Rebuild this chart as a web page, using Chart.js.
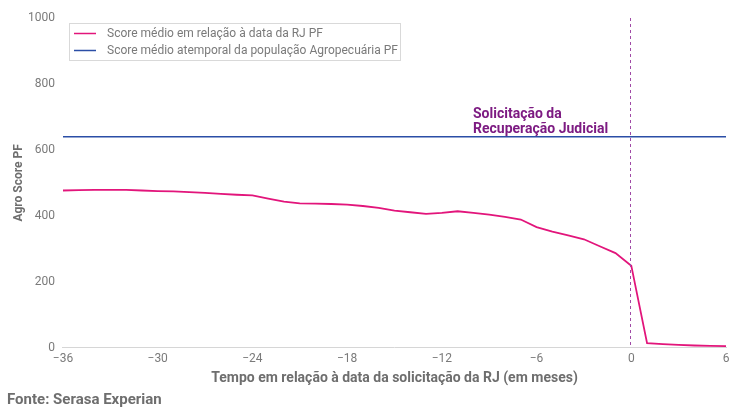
<!DOCTYPE html>
<html>
<head>
<meta charset="utf-8">
<script src="https://cdn.jsdelivr.net/npm/chart.js@4.4.1/dist/chart.umd.min.js"></script>
<style>
  html, body { margin: 0; padding: 0; background: #fff; }
  #wrap { width: 743px; height: 412px; position: relative; }
</style>
</head>
<body>
<div id="wrap"><canvas id="chart"></canvas></div>
<script>
// months relative to the RJ request date
const months = [-36, -35, -34, -33, -32, -31, -30, -29, -28, -27, -26, -25, -24, -23, -22, -21, -20, -19, -18, -17, -16, -15, -14, -13, -12, -11, -10, -9, -8, -7, -6, -5, -4, -3, -2, -1, 0, 1, 2, 3, 4, 5, 6];
const scoreRJ = [477, 478, 479, 479, 479, 477, 475, 474, 472, 470, 467, 464, 462, 452, 443, 438, 437, 436, 434, 430, 424, 416, 411, 406, 409, 414, 409, 404, 397, 389, 366, 352, 341, 329, 308, 287, 249, 14, 11, 9, 7, 6, 5];
const scorePopulation = 640;
const xTicks = [-36, -30, -24, -18, -12, -6, 0, 6];
const yTicks = [0, 200, 400, 600, 800, 1000];

const pink = '#e2157b';
const blue = '#2b4ea6';
const purple = '#7d1b82';

// legend box, dashed marker line and text labels
const overlay = {
  id: 'overlay',
  afterDatasetsDraw(chart) {
    const { ctx, chartArea, scales } = chart;
    ctx.save();

    // dashed line at month 0
    const x0 = scales.x.getPixelForValue(0);
    ctx.strokeStyle = '#a04aa6';
    ctx.lineWidth = 1;
    ctx.setLineDash([3, 3]);
    ctx.beginPath();
    ctx.moveTo(Math.round(x0) - 0.5, chartArea.top);
    ctx.lineTo(Math.round(x0) - 0.5, chartArea.bottom);
    ctx.stroke();
    ctx.setLineDash([]);

    ctx.fillStyle = purple;
    ctx.font = 'bold 14px Roboto';
    ctx.textAlign = 'left';
    ctx.textBaseline = 'alphabetic';
    ctx.fillText('Solicitação da', 473, 118);
    ctx.fillText('Recuperação Judicial', 473, 133);

    // y axis title
    ctx.save();
    ctx.translate(22, (chartArea.top + chartArea.bottom) / 2);
    ctx.rotate(-Math.PI / 2);
    ctx.fillStyle = '#6e6e6e';
    ctx.font = 'bold 12px Roboto';
    ctx.textAlign = 'center';
    ctx.fillText('Agro Score PF', 0, 0);
    ctx.restore();

    // legend
    const lx = 69, ly = 23, lw = 331, lh = 37;
    ctx.fillStyle = '#fff';
    ctx.fillRect(lx, ly, lw, lh);
    ctx.strokeStyle = '#d9d9d9';
    ctx.lineWidth = 1;
    ctx.strokeRect(lx + 0.5, ly + 0.5, lw, lh);
    const items = chart.data.datasets;
    ctx.font = '12px Roboto';
    ctx.textBaseline = 'middle';
    ctx.textAlign = 'left';
    items.forEach((ds, i) => {
      const y = ly + 10 + i * 17;
      ctx.strokeStyle = ds.borderColor;
      ctx.lineWidth = 1.5;
      ctx.beginPath();
      ctx.moveTo(lx + 5, y + 0.5);
      ctx.lineTo(lx + 27, y + 0.5);
      ctx.stroke();
      ctx.fillStyle = '#7a7a7a';
      ctx.fillText(ds.label, lx + 38, y + 1);
    });

    // source
    ctx.fillStyle = '#6e6e6e';
    ctx.font = 'bold 15px Roboto';
    ctx.textBaseline = 'alphabetic';
    ctx.fillText('Fonte: Serasa Experian', 7, 404);
    ctx.restore();
  }
};

const fmt = v => (v < 0 ? '\u2212' + Math.abs(v) : String(v));

new Chart(document.getElementById('chart'), {
  type: 'line',
  data: {
    datasets: [{
      label: 'Score médio em relação à data da RJ PF',
      data: months.map((m, i) => ({ x: m, y: scoreRJ[i] })),
      borderColor: pink,
      borderWidth: 1.8,
      pointRadius: 0,
      tension: 0
    }, {
      label: 'Score médio atemporal da população Agropecuária PF',
      data: [{ x: months[0], y: scorePopulation }, { x: months[months.length - 1], y: scorePopulation }],
      borderColor: blue,
      borderWidth: 1.5,
      pointRadius: 0
    }]
  },
  options: {
    responsive: true,
    maintainAspectRatio: false,
    animation: false,
    layout: { padding: { left: 20, right: 17, top: 18, bottom: 25 } },
    plugins: {
      legend: { display: false },
      tooltip: { enabled: false }
    },
    scales: {
      x: {
        type: 'linear',
        min: -36,
        max: 6,
        afterBuildTicks: axis => { axis.ticks = xTicks.map(v => ({ value: v })); },
        grid: { display: false, drawTicks: false },
        border: { color: '#d6d6d6' },
        ticks: {
          color: '#7a7a7a',
          font: { family: 'Roboto', size: 12 },
          padding: 4,
          maxRotation: 0,
          callback: v => fmt(v)
        },
        title: {
          display: true,
          text: 'Tempo em relação à data da solicitação da RJ (em meses)',
          color: '#6e6e6e',
          font: { family: 'Roboto', size: 14, weight: 'bold' },
          padding: { top: 0, bottom: 0 }
        }
      },
      y: {
        min: 0,
        max: 1000,
        afterBuildTicks: axis => { axis.ticks = yTicks.map(v => ({ value: v })); },
        grid: { display: false, drawTicks: false },
        border: { display: false },
        ticks: {
          color: '#7a7a7a',
          font: { family: 'Roboto', size: 12 },
          padding: 8,
          callback: v => String(v)
        }
      }
    }
  },
  plugins: [overlay]
});
</script>
</body>
</html>
